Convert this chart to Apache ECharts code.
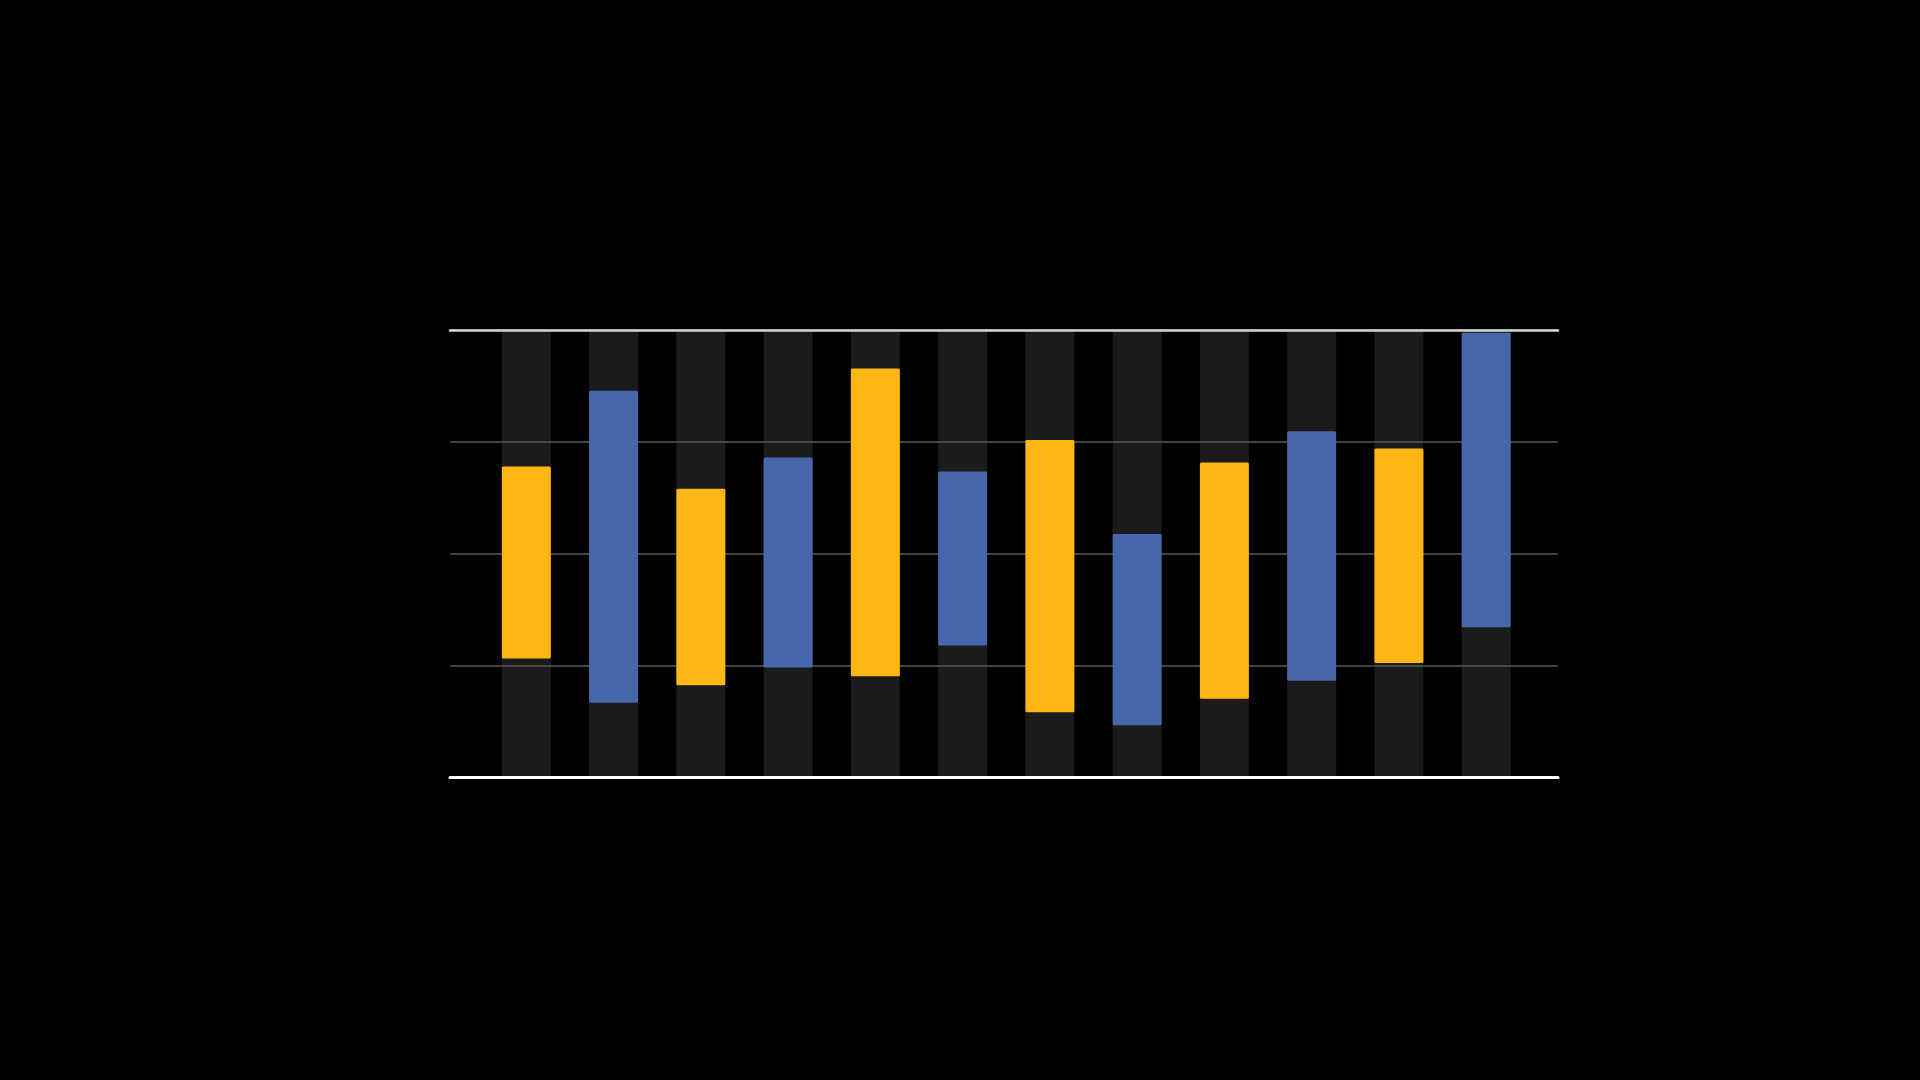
<!DOCTYPE html>
<html>
<head>
<meta charset="utf-8">
<script src="https://cdn.jsdelivr.net/npm/echarts@6/dist/echarts.min.js"></script>
<style>
html,body{margin:0;padding:0;background:#000;}
#chart{width:1920px;height:1080px;}
</style>
</head>
<body>
<div id="chart"></div>
<script>
// Data (value scale 0-100)
const categories = ['1','2','3','4','5','6','7','8','9','10','11','12'];
const kinds = ['yellow','blue','yellow','blue','yellow','blue','yellow','blue','yellow','blue','yellow','blue'];
const lows  = [26.6, 16.7, 20.6, 24.6, 22.6, 29.5, 14.6, 11.7, 17.6, 21.6, 25.6, 33.6];
const highs = [69.5, 86.4, 64.5, 71.5, 91.4, 68.4, 75.4, 54.4, 70.4, 77.4, 73.5, 99.4];
const yTicks = [0, 25, 50, 75, 100];

const colorMap = { yellow: '#FCB714', blue: '#4767AD' };
const yMin = yTicks[0], yMax = yTicks[yTicks.length - 1];

const chart = echarts.init(document.getElementById('chart'));

const bgData = categories.map(() => yMax);
const rangeData = categories.map((c, i) => ({
  value: +(highs[i] - lows[i]).toFixed(2),
  itemStyle: { color: colorMap[kinds[i]] }
}));

chart.setOption({
  backgroundColor: '#000000',
  animation: false,
  grid: [
    { left: 450, right: 362, top: 330, bottom: 302.5, containLabel: false },
    { left: 482.7, right: 390.2, top: 330, bottom: 302.5, containLabel: false }
  ],
  xAxis: [{
    gridIndex: 0, type: 'value', min: 0, max: 1, position: 'bottom', z: 5,
    axisLine: { show: true, onZero: false, lineStyle: { color: '#ffffff', width: 3 } },
    axisTick: { show: false }, axisLabel: { show: false }, splitLine: { show: false }
  }, {
    gridIndex: 0, type: 'value', min: 0, max: 1, position: 'top', z: 5,
    axisLine: { show: true, onZero: false, lineStyle: { color: '#d4d4d4', width: 2.5 } },
    axisTick: { show: false }, axisLabel: { show: false }, splitLine: { show: false }
  }, {
    gridIndex: 1, type: 'category', data: categories, boundaryGap: true,
    axisLine: { show: false }, axisTick: { show: false }, axisLabel: { show: false }, splitLine: { show: false }
  }],
  yAxis: [{
    gridIndex: 0, type: 'value', min: yMin, max: yMax, interval: 25, z: 1,
    axisLine: { show: false }, axisTick: { show: false }, axisLabel: { show: false },
    splitLine: { show: true, lineStyle: { color: '#5a5a5a', width: 1.5 } }
  }, {
    gridIndex: 1, type: 'value', min: yMin, max: yMax, interval: 25,
    axisLine: { show: false }, axisTick: { show: false }, axisLabel: { show: false },
    splitLine: { show: false }
  }],
  series: [{
    name: 'background', type: 'bar', xAxisIndex: 2, yAxisIndex: 1,
    data: bgData, barWidth: 49, barGap: '-100%',
    itemStyle: { color: '#1b1b1b' }, silent: true, z: 0
  }, {
    name: 'base', type: 'bar', xAxisIndex: 2, yAxisIndex: 1, stack: 'range',
    data: lows, barWidth: 49, barGap: '-100%',
    itemStyle: { color: 'rgba(0,0,0,0)' }, silent: true, z: 2
  }, {
    name: 'range', type: 'bar', xAxisIndex: 2, yAxisIndex: 1, stack: 'range',
    data: rangeData, barWidth: 49, barGap: '-100%',
    itemStyle: { borderRadius: 1.5 }, z: 3
  }]
});
</script>
</body>
</html>
